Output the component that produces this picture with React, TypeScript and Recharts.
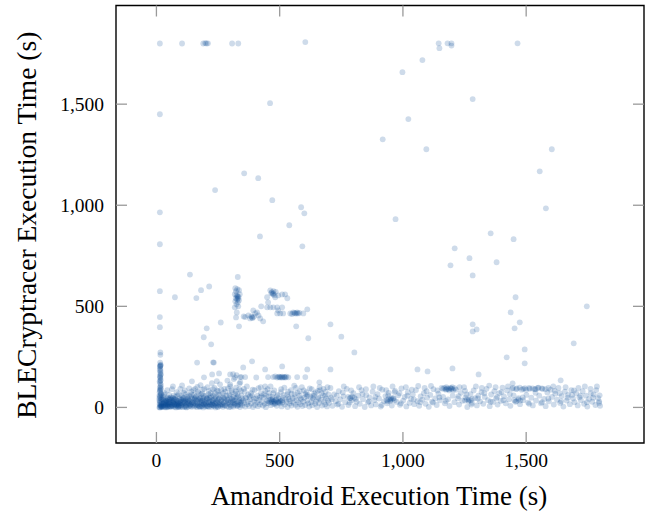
import { ScatterChart, Scatter, XAxis, YAxis, ReferenceArea } from 'recharts';

// values (x = Amandroid s, y = BLECryptracer s)
const timeoutRow = [
    [14, 1800], [104, 1800], [190, 1800], [198, 1802], [203, 1800], [209, 1801], [307, 1800], [332, 1800],
    [604, 1807], [1145, 1801], [1148, 1777], [1181, 1801], [1197, 1801], [1197, 1790], [1465, 1801],
];

const highOutliers = [
    [14, 1450], [461, 1505], [356, 1158], [413, 1134], [238, 1075], [470, 1025], [1079, 1718], [998, 1658],
    [1283, 1525], [1022, 1426], [918, 1326], [1095, 1277], [1604, 1277], [1555, 1168], [1580, 985], [970, 931],
    [1356, 861], [1449, 832], [1210, 787], [1270, 738], [1193, 703], [1380, 718], [1283, 653], [14, 965],
    [14, 807], [136, 657], [420, 846], [539, 901], [587, 990], [600, 960], [592, 797], [330, 645],
];

const midOutliers = [
    [14, 575], [14, 447], [14, 397], [16, 272], [16, 260], [181, 580], [214, 598], [75, 545], [162, 541],
    [204, 391], [192, 347], [222, 312], [261, 420], [165, 222], [233, 222], [706, 411], [750, 350], [803, 272],
    [616, 342], [567, 401], [388, 228], [352, 198], [1457, 545], [1746, 500], [1437, 470], [1283, 411],
    [1283, 376], [1299, 386], [1474, 421], [1453, 391], [1693, 317], [1494, 287], [1421, 248], [1494, 218],
    [510, 203], [323, 445], [335, 401],
];

const clusterA = [
    [320, 590], [328, 585], [335, 580], [318, 560], [325, 555], [330, 550], [333, 545], [322, 540], [327, 535],
    [335, 530], [320, 525], [330, 520], [325, 510], [318, 495], [332, 500], [326, 470], [338, 560], [323, 575],
    [328, 548], [331, 538],
];

const clusterB = [
    [360, 447], [373, 455], [388, 445], [401, 465], [414, 455], [393, 480], [408, 470], [421, 440], [433, 426],
    [380, 440], [385, 450], [395, 448], [390, 442], [354, 450],
];

const clusterC = [
    [462, 579], [474, 564], [482, 545], [494, 554], [510, 559], [522, 559], [531, 540], [449, 545], [453, 520],
    [462, 495], [474, 495], [490, 495], [449, 495], [494, 480], [510, 495], [490, 465], [502, 465], [514, 465],
    [425, 500], [468, 570], [472, 560], [478, 555], [466, 565], [475, 575], [484, 572],
];

const clusterD = [
    [543, 465], [555, 470], [563, 465], [571, 470], [575, 465], [596, 465], [612, 485], [550, 462], [560, 468],
    [568, 465], [580, 468],
];

const row150 = [
    [144, 129], [193, 149], [226, 163], [254, 168], [299, 163], [319, 148], [340, 150], [405, 148], [453, 150],
    [474, 150], [482, 153], [490, 148], [498, 152], [505, 150], [512, 147], [520, 150], [527, 152], [535, 149],
    [571, 150], [604, 150], [441, 188], [441, 104], [258, 114], [299, 114], [67, 104], [104, 109], [230, 223],
    [661, 124], [612, 188], [706, 188], [311, 165], [325, 160], [345, 150], [360, 150], [495, 150], [502, 148],
    [510, 152], [517, 150], [523, 148], [1059, 188], [1100, 178], [1201, 193], [1307, 163], [1445, 119], [1640, 134],
];

const leftColumn = [
    [14, 2], [16, 8], [18, 15], [13, 22], [20, 4], [15, 30], [17, 38], [12, 45], [19, 10], [14, 52], [16, 60],
    [18, 68], [13, 75], [15, 82], [17, 90], [14, 98], [16, 105], [18, 112], [15, 120], [13, 128], [17, 136],
    [16, 145], [14, 155], [18, 165], [15, 172], [17, 180], [16, 190], [14, 200], [17, 212], [15, 222], [13, 14],
    [20, 26], [12, 34], [19, 48], [12, 58], [20, 6], [21, 18], [22, 40], [12, 0], [22, 3], [16, 0], [19, 64],
    [14, 86], [18, 95], [16, 132], [15, 150], [17, 160], [14, 184], [16, 206], [17, 208], [15, 204],
];

const bandLeft = [
    [26, 3], [28, 18], [30, 9], [32, 27], [34, 42], [36, 5], [38, 14], [40, 33], [42, 21], [44, 2], [46, 48],
    [48, 11], [50, 26], [52, 7], [54, 37], [56, 16], [27, 55], [31, 63], [35, 12], [39, 0], [43, 30], [47, 4],
    [51, 19], [55, 44], [29, 36], [33, 1], [37, 24], [41, 8], [45, 15], [49, 40], [53, 28], [57, 6],
    [58, 22], [60, 3], [62, 35], [64, 12], [66, 47], [68, 6], [70, 19], [72, 29], [74, 2], [76, 14], [78, 38],
    [80, 9], [82, 25], [84, 57], [86, 4], [88, 17], [90, 31], [92, 10], [94, 44], [96, 1], [59, 50], [63, 8],
    [67, 26], [71, 41], [75, 16], [79, 0], [83, 34], [87, 21], [91, 6], [95, 28], [61, 14], [69, 33], [77, 52],
    [85, 11], [93, 19],
    [98, 24], [100, 7], [102, 39], [104, 13], [106, 2], [108, 29], [110, 18], [112, 46], [114, 5], [116, 22],
    [118, 35], [120, 10], [122, 0], [124, 27], [126, 15], [128, 42], [130, 4], [132, 20], [134, 31], [136, 9],
    [138, 53], [140, 17], [142, 3], [144, 26], [146, 38], [101, 60], [111, 72], [121, 66], [131, 58], [141, 78],
    [99, 12], [109, 33], [119, 1], [129, 24], [139, 8],
    [148, 13], [150, 30], [152, 5], [154, 21], [156, 44], [158, 9], [160, 16], [162, 34], [164, 1], [166, 25],
    [168, 12], [170, 40], [172, 6], [174, 19], [176, 29], [178, 3], [180, 48], [182, 15], [184, 23], [186, 8],
    [188, 36], [190, 0], [192, 18], [194, 27], [196, 11], [151, 62], [161, 55], [171, 70], [181, 64], [191, 57],
    [157, 92], [187, 88], [166, 102], [179, 110],
    [198, 32], [200, 4], [202, 20], [204, 14], [206, 43], [208, 7], [210, 25], [212, 2], [214, 37], [216, 16],
    [218, 9], [220, 28], [222, 50], [224, 3], [226, 19], [228, 33], [230, 11], [232, 24], [234, 6], [236, 41],
    [238, 15], [240, 0], [242, 29], [244, 10], [246, 22], [248, 35], [250, 5], [252, 18], [254, 45], [256, 12],
    [201, 58], [211, 66], [221, 72], [231, 60], [241, 54], [251, 80], [207, 100], [235, 96], [225, 120], [245, 130],
    [258, 27], [261, 8], [264, 38], [267, 17], [270, 3], [273, 24], [276, 46], [279, 13], [282, 30], [285, 6],
    [288, 20], [291, 36], [294, 1], [297, 15], [300, 28], [303, 9], [306, 42], [309, 22], [312, 4], [315, 33],
    [318, 12], [321, 19], [324, 50], [327, 7], [330, 26], [333, 14], [336, 38], [339, 2], [342, 23], [345, 31],
    [259, 62], [271, 70], [283, 58], [295, 64], [307, 76], [319, 68], [331, 55], [343, 82], [275, 92], [299, 104],
    [323, 98], [337, 118], [288, 133], [314, 140], [340, 125],
    [24, 10], [30, 20], [41, 16], [54, 3], [65, 24], [81, 15], [89, 2], [105, 20], [117, 8], [127, 30], [137, 14],
    [149, 22], [163, 10], [175, 4], [185, 32], [195, 17], [205, 6], [215, 26], [227, 12], [239, 20], [249, 2],
    [262, 16], [277, 9], [292, 25], [302, 3], [317, 18], [329, 10], [341, 14], [36, 28], [72, 12], [113, 26],
    [183, 6], [223, 14], [269, 11], [311, 27],
    [33, 70], [44, 85], [52, 62], [63, 90], [70, 58], [82, 76], [90, 66], [97, 92], [107, 48], [115, 84],
    [125, 52], [133, 94], [143, 64], [150, 86], [159, 50], [168, 78], [177, 44], [186, 68], [194, 92], [203, 46],
    [213, 82], [219, 56], [229, 90], [237, 70], [246, 84], [253, 62], [263, 88], [272, 50], [280, 78], [290, 94],
    [298, 58], [305, 86], [313, 52], [322, 80], [329, 66], [336, 90], [344, 60],
    [27, 40], [38, 34], [49, 44], [60, 38], [73, 42], [86, 30], [97, 36], [107, 44], [119, 40], [131, 36],
    [143, 46], [155, 38], [167, 42], [179, 34], [191, 46], [203, 40], [215, 48], [227, 36], [239, 44], [251, 40],
    [263, 34], [275, 42], [287, 38], [299, 46], [311, 36], [323, 42], [335, 30], [347, 44],
];

const bandMiddle = [
    [348, 10], [352, 35], [356, 22], [360, 4], [364, 50], [368, 16], [372, 28], [376, 7], [380, 41], [384, 19],
    [388, 60], [392, 2], [396, 30], [400, 12], [404, 45], [408, 24], [412, 6], [416, 36], [420, 15], [424, 70],
    [428, 27], [432, 9], [436, 48], [440, 18], [444, 1], [448, 33], [452, 21], [456, 55], [460, 38], [464, 11],
    [468, 26], [472, 42], [476, 30], [480, 17], [484, 35], [488, 8], [492, 28], [496, 46], [500, 20], [504, 34],
    [508, 5], [512, 24], [516, 62], [520, 14], [524, 40], [528, 27], [532, 2], [536, 52], [540, 19], [544, 31],
    [548, 9], [552, 44], [556, 23], [560, 66], [564, 13], [568, 36], [572, 3], [576, 25], [580, 58], [584, 16],
    [588, 40], [592, 7], [596, 29], [600, 48], [604, 12], [608, 75], [612, 34], [616, 20], [620, 4], [624, 54],
    [628, 26], [632, 11], [636, 42], [640, 68], [644, 18], [648, 30], [652, 2], [656, 50], [660, 22], [664, 86],
    [668, 37], [672, 9], [676, 60], [680, 28], [684, 15], [688, 45], [692, 5], [696, 33],
    [454, 30], [462, 25], [470, 33], [478, 28], [486, 38], [494, 24], [502, 31], [510, 36], [466, 40], [482, 22],
    [498, 27], [474, 18],
    [358, 78], [390, 88], [414, 95], [442, 82], [474, 70], [506, 90], [534, 78], [566, 96], [598, 84], [630, 90],
    [662, 100], [686, 78], [372, 64], [426, 56], [458, 72], [548, 68], [582, 80], [614, 62], [646, 74], [678, 92],
    [355, 92], [367, 104], [383, 70], [398, 86], [410, 58], [423, 100], [437, 66], [451, 90], [463, 104], [478, 84],
    [492, 62], [505, 76], [519, 98], [531, 64], [546, 86], [559, 108], [573, 72], [590, 100], [604, 66], [622, 94],
    [638, 58], [655, 82], [670, 70], [694, 100], [362, 46], [379, 54], [395, 44], [419, 50], [445, 58], [470, 52],
    [489, 56], [513, 48], [538, 42], [562, 50], [585, 46], [610, 56], [634, 48], [658, 44], [684, 56], [698, 64],
];

const bandRight = [
    [700, 22], [708, 48], [714, 8], [721, 65], [727, 31], [734, 14], [740, 80], [746, 40], [753, 3], [759, 55],
    [766, 26], [772, 92], [779, 12], [786, 47], [792, 35], [799, 70], [806, 6], [812, 28], [819, 58], [825, 18],
    [832, 85], [838, 41], [845, 2], [851, 62], [858, 25], [864, 50], [871, 10], [877, 78], [884, 36], [890, 15],
    [897, 66], [903, 44], [910, 4], [916, 88], [923, 30], [929, 56], [936, 20], [942, 72], [949, 38], [955, 9],
    [962, 46], [968, 82], [975, 27], [981, 60], [988, 13], [994, 94], [1001, 34], [1007, 52], [1014, 5], [1020, 75],
    [1027, 22], [1033, 42], [1040, 64], [1046, 16], [1053, 86], [1059, 31], [1066, 8], [1072, 55], [1079, 39],
    [1085, 70], [1092, 18], [1098, 48], [1105, 3], [1111, 62], [1118, 28], [1124, 90], [1131, 44], [1137, 12],
    [1144, 68], [1150, 35], [1157, 96], [1163, 52], [1170, 20], [1176, 90], [1183, 40], [1189, 7], [1196, 94],
    [1202, 58], [1209, 26], [1215, 88], [1222, 45], [1228, 14], [1235, 72], [1241, 33], [1248, 100], [1254, 50],
    [1261, 2], [1267, 38], [1274, 66], [1280, 22], [1287, 84], [1293, 46], [1300, 10], [1306, 58], [1313, 30],
    [1319, 76], [1326, 18], [1332, 52], [1339, 92], [1345, 36], [1352, 6], [1358, 64], [1365, 27], [1371, 80],
    [1378, 44], [1384, 14], [1391, 70], [1397, 32], [1404, 98], [1410, 55], [1417, 20], [1423, 84], [1430, 40],
    [1436, 8], [1443, 92], [1449, 60], [1456, 28], [1462, 94], [1469, 46], [1475, 16], [1482, 88], [1488, 36],
    [1495, 95], [1501, 62], [1508, 24], [1514, 92], [1521, 48], [1527, 10], [1534, 90], [1540, 34], [1547, 96],
    [1553, 58], [1560, 20], [1566, 92], [1573, 42], [1579, 6], [1586, 74], [1592, 30], [1599, 88], [1605, 52],
    [1612, 14], [1618, 68], [1625, 38], [1631, 96], [1638, 22], [1644, 56], [1651, 4], [1657, 78], [1664, 34],
    [1670, 62], [1677, 16], [1683, 86], [1690, 44], [1696, 26], [1703, 70], [1709, 10], [1716, 50], [1722, 36],
    [1729, 80], [1735, 18], [1742, 58], [1748, 4], [1755, 42], [1761, 92], [1768, 28], [1774, 64], [1781, 12],
    [1787, 104], [1792, 46], [1796, 30], [1800, 8],
    [1162, 92], [1168, 96], [1174, 88], [1180, 94], [1186, 90], [1192, 97], [1198, 92], [1204, 86], [1210, 95],
    [1176, 100], [1188, 84], [1200, 100],
    [1446, 96], [1460, 90], [1474, 98], [1488, 92], [1500, 88], [1512, 96], [1526, 94], [1538, 90], [1550, 98],
    [1564, 94], [1578, 90], [1590, 96],
    [934, 36], [942, 42], [948, 32], [954, 38], [960, 44], [938, 30], [952, 46], [966, 35],
    [1252, 34], [1260, 40], [1266, 30], [1274, 36], [1280, 42], [1452, 36], [1460, 30], [1468, 40], [1476, 34],
    [778, 52], [786, 46], [794, 54], [802, 48],
    [712, 40], [738, 18], [756, 74], [784, 24], [808, 42], [836, 66], [862, 30], [888, 52], [914, 12], [940, 60],
    [966, 76], [992, 20], [1018, 58], [1044, 40], [1070, 26], [1096, 80], [1122, 24], [1148, 50], [1174, 32],
    [1226, 56], [1252, 82], [1278, 14], [1304, 44], [1330, 70], [1356, 28], [1382, 52], [1408, 36], [1434, 66],
    [1486, 50], [1512, 18], [1538, 72], [1564, 26], [1590, 44], [1616, 82], [1642, 30], [1668, 48], [1694, 84],
    [1720, 58], [1746, 26], [1772, 48], [1796, 22],
    [706, 96], [732, 58], [760, 104], [790, 84], [822, 100], [850, 90], [880, 104], [906, 96], [932, 86],
    [958, 104], [986, 70], [1012, 100], [1036, 88], [1062, 106], [1088, 96], [1114, 106], [1140, 84], [1230, 100],
    [1258, 64], [1296, 104], [1320, 96], [1350, 108], [1376, 100], [1400, 76], [1426, 104], [1610, 104],
    [1636, 70], [1660, 100], [1686, 62], [1712, 96], [1738, 104], [1762, 70], [1784, 86], [1798, 60],
];

const xTicks = [0, 500, 1000, 1500];
const yTicks = [0, 500, 1000, 1500];

const points = [
    ...timeoutRow, ...highOutliers, ...midOutliers, ...clusterA, ...clusterB, ...clusterC, ...clusterD,
    ...row150, ...leftColumn, ...bandLeft, ...bandMiddle, ...bandRight,
].map(([x, y]) => ({ x, y }));

const W = 647;
const H = 514;
const TOP = 5.5;
const BOTTOM = 443;
const LEFT = 116;
const RIGHT = 644;
const SERIF = '"Liberation Serif", "DejaVu Serif", serif';
const TICK_GREY = '#9a9a9a';

const fmt = (v: number) => String(v).replace(/\B(?=(\d{3})+(?!\d))/g, ',');

const XTick = ({ x, payload }: any) => (
    <g>
        <line x1={x} x2={x} y1={BOTTOM} y2={BOTTOM - 11} stroke={TICK_GREY} strokeWidth={1.3} />
        <line x1={x} x2={x} y1={TOP} y2={TOP + 11} stroke={TICK_GREY} strokeWidth={1.3} />
        <text x={x} y={467} textAnchor="middle" fontFamily={SERIF} fontSize={19.5} fill="#000">
            {fmt(payload.value)}
        </text>
    </g>
);

const YTick = ({ y, payload }: any) => (
    <g>
        <line x1={LEFT} x2={LEFT + 11} y1={y} y2={y} stroke={TICK_GREY} strokeWidth={1.3} />
        <line x1={RIGHT} x2={RIGHT - 11} y1={y} y2={y} stroke={TICK_GREY} strokeWidth={1.3} />
        <text x={104} y={y + 6.5} textAnchor="end" fontFamily={SERIF} fontSize={19.5} fill="#000">
            {fmt(payload.value)}
        </text>
    </g>
);

const XTitle = () => (
    <text x={(LEFT + RIGHT) / 2 - 1} y={505} textAnchor="middle" fontFamily={SERIF} fontSize={27} fill="#000">
        Amandroid Execution Time (s)
    </text>
);

const YTitle = () => (
    <text
        x={36}
        y={(TOP + BOTTOM) / 2 + 1}
        transform={`rotate(-90 36 ${(TOP + BOTTOM) / 2 + 1})`}
        textAnchor="middle"
        fontFamily={SERIF}
        fontSize={27.5}
        fill="#000"
    >
        BLECryptracer Execution Time (s)
    </text>
);

const Dot = (props: any) => (
    <circle cx={props.cx} cy={props.cy} r={2.9} fill="#0c4c96" fillOpacity={0.2} />
);

export default function App() {
    return (
        <div style={{ position: 'absolute', left: 0, top: 0, background: '#fff' }}>
            <ScatterChart
                width={W}
                height={H}
                margin={{ top: TOP, right: W - RIGHT, bottom: 0, left: 0 }}
            >
                <XAxis
                    type="number"
                    dataKey="x"
                    domain={[-164, 1978]}
                    ticks={xTicks}
                    height={H - BOTTOM}
                    axisLine={false}
                    tickLine={false}
                    tick={<XTick />}
                    label={<XTitle />}
                />
                <YAxis
                    type="number"
                    dataKey="y"
                    domain={[-176, 1988]}
                    ticks={yTicks}
                    width={LEFT}
                    axisLine={false}
                    tickLine={false}
                    tick={<YTick />}
                    label={<YTitle />}
                />
                <ReferenceArea
                    x1={-164}
                    x2={1978}
                    y1={-176}
                    y2={1988}
                    fill="none"
                    stroke="#000"
                    strokeWidth={1.4}
                    strokeOpacity={1}
                />
                <Scatter data={points} shape={<Dot />} isAnimationActive={false} />
            </ScatterChart>
        </div>
    );
}
